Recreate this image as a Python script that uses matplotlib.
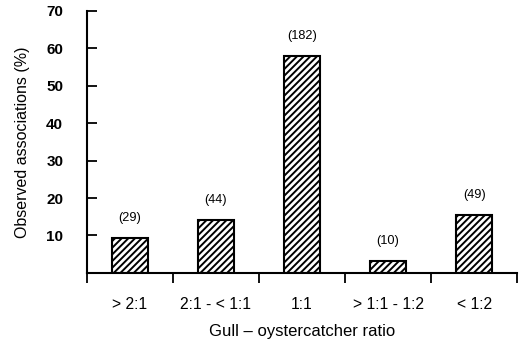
import matplotlib
matplotlib.use("Agg")
import matplotlib.pyplot as plt
import numpy as np

plt.rcParams['font.family'] = ['Liberation Sans', 'DejaVu Sans']
plt.rcParams['hatch.linewidth'] = 1.4

# data
categories = ['> 2:1', '2:1 - < 1:1', '1:1', '> 1:1 - 1:2', '< 1:2']
percent = [9.4, 14.1, 57.9, 3.3, 15.5]
counts = [29, 44, 182, 10, 49]
yticks = [10, 20, 30, 40, 50, 60, 70]

fig = plt.figure(figsize=(5.23, 3.39), dpi=100)
ax = fig.add_axes([0.166, 0.195, 0.823, 0.773])

x = np.arange(len(categories))
bars = ax.bar(x, percent, width=0.42, color='white', edgecolor='black',
              linewidth=1.5, hatch='/////')

for xi, p, n in zip(x, percent, counts):
	ax.annotate('({})'.format(n), xy=(xi, p), xytext=(0, 10), textcoords='offset points',
		ha='center', va='bottom', fontsize=9.2)

ax.set_xlim(-0.5, 4.5)
ax.set_ylim(0, 70)
ax.set_yticks(yticks)
ax.set_yticklabels([str(t) for t in yticks], fontsize=11, fontweight='bold')
ax.tick_params(axis='y', direction='in', length=7, width=1.3, pad=17)

ax.set_xticks(np.arange(-0.5, 5, 1.0))
ax.set_xticklabels([])
ax.set_xticks(x, minor=True)
ax.set_xticklabels(categories, minor=True, fontsize=11.3)
ax.tick_params(axis='x', which='major', direction='out', length=7, width=1.3)
ax.tick_params(axis='x', which='minor', length=0, pad=17)

ax.spines['top'].set_visible(False)
ax.spines['right'].set_visible(False)
ax.spines['left'].set_linewidth(1.5)
ax.spines['bottom'].set_linewidth(1.5)

ax.set_xlabel('Gull \u2013 oystercatcher ratio', fontsize=12, labelpad=9)
ax.set_ylabel('Observed associations (%)', fontsize=11.5, labelpad=12)

fig.savefig('out.png', dpi=100)
